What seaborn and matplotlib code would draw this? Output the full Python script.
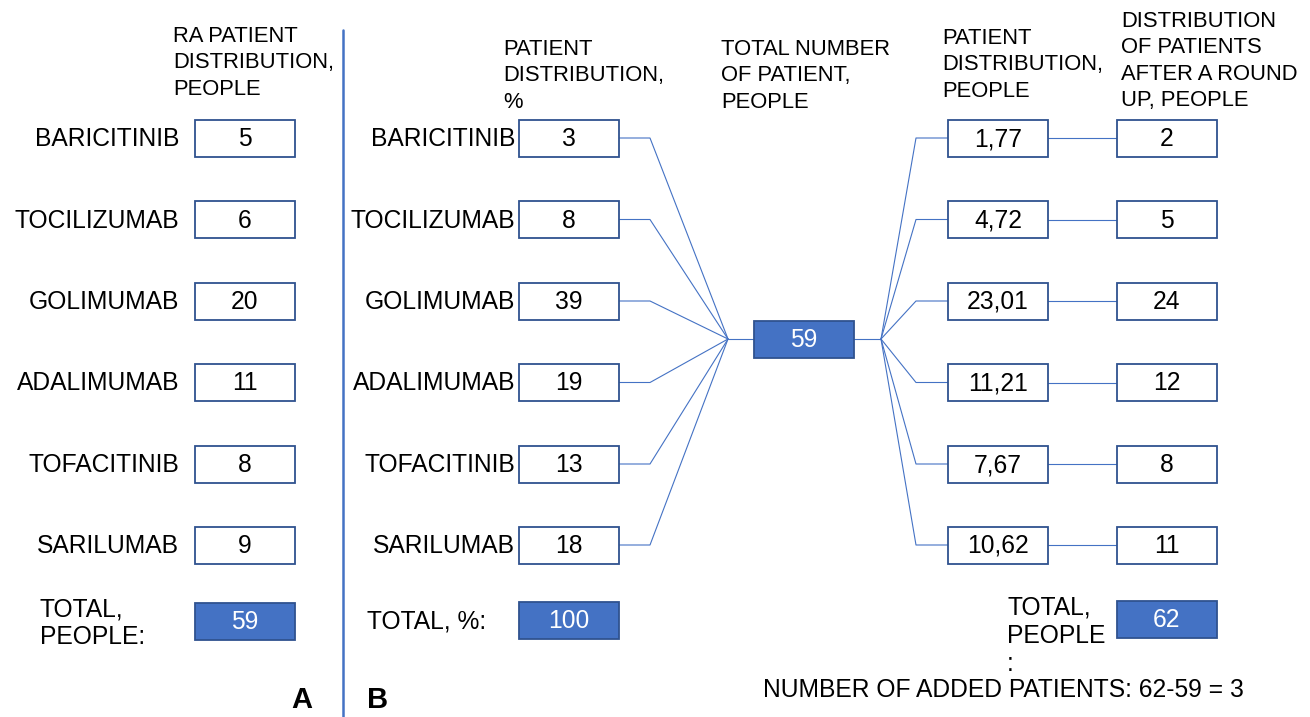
import matplotlib
matplotlib.use("Agg")
import matplotlib.pyplot as plt
from matplotlib.patches import Rectangle
import seaborn as sns

# data
drugs = ["BARICITINIB", "TOCILIZUMAB", "GOLIMUMAB", "ADALIMUMAB", "TOFACITINIB", "SARILUMAB"]
ra_people = ["5", "6", "20", "11", "8", "9"]
pct = ["3", "8", "39", "19", "13", "18"]
dist_people = ["1,77", "4,72", "23,01", "11,21", "7,67", "10,62"]
rounded_people = ["2", "5", "24", "12", "8", "11"]
total_a = "59"
total_pct = "100"
total_hub = "59"
total_rounded = "62"
added_text = "NUMBER OF ADDED PATIENTS: 62-59 = 3"

sns.set_theme(style="white")
plt.rcParams["font.family"] = ["Liberation Sans", "DejaVu Sans"]
plt.rcParams["text.color"] = "black"

FILL = "#4472C4"
EDGE = "#2F528F"
FS = 17.7
HFS = 15.8

fig = plt.figure(figsize=(13.1, 7.17), dpi=100)
ax = fig.add_axes([0, 0, 1, 1])
ax.set_xlim(0, 1310)
ax.set_ylim(717, 0)
ax.axis("off")


def box(x0, yc, txt, filled=False, w=100, h=37):
    ax.add_patch(Rectangle((x0, yc - h / 2), w, h, facecolor=FILL if filled else "white",
                           edgecolor=EDGE, lw=1.3, zorder=3))
    ax.text(x0 + w / 2, yc + 1, txt, ha="center", va="center", fontsize=FS,
            color="white" if filled else "black", zorder=4)


def header(x, y, txt):
    ax.text(x, y, txt, fontsize=HFS, va="top", ha="left", linespacing=1.34)


row_y = [138, 219.5, 301, 382.5, 464, 545]
hub_l = (728, 339)
hub_r = (881, 339)

# headers
header(173, 26, "RA PATIENT\nDISTRIBUTION,\nPEOPLE")
header(503, 39, "PATIENT\nDISTRIBUTION,\n%")
header(721, 39, "TOTAL NUMBER\nOF PATIENT,\nPEOPLE")
header(942, 28, "PATIENT\nDISTRIBUTION,\nPEOPLE")
header(1121, 11, "DISTRIBUTION\nOF PATIENTS\nAFTER A ROUND\nUP, PEOPLE")

# divider
ax.plot([343, 343], [30, 717], color=FILL, lw=1.8)

for i, y in enumerate(row_y):
    # panel A
    ax.text(179, y + 1, drugs[i], ha="right", va="center", fontsize=FS)
    box(195, y, ra_people[i])
    # panel B left
    ax.text(515, y + 1, drugs[i], ha="right", va="center", fontsize=FS)
    box(519, y, pct[i])
    ax.plot([619, 650, hub_l[0]], [y, y, hub_l[1]], color=FILL, lw=0.8, zorder=2)
    # right side
    ax.plot([hub_r[0], 916, 948], [hub_r[1], y, y], color=FILL, lw=0.8, zorder=2)
    box(948, y, dist_people[i])
    ax.plot([1048, 1117], [y, y], color=FILL, lw=0.8, zorder=2)
    box(1117, y, rounded_people[i])

# hub
ax.plot([hub_l[0], 754], [339, 339], color=FILL, lw=0.8)
ax.plot([853, hub_r[0]], [339, 339], color=FILL, lw=0.8)
box(754, 339, total_hub, filled=True)

# totals
ax.text(40, 623, "TOTAL,\nPEOPLE:", ha="left", va="center", fontsize=FS, linespacing=1.2)
box(195, 621, total_a, filled=True)
ax.text(367, 622, "TOTAL, %:", ha="left", va="center", fontsize=FS)
box(519, 620, total_pct, filled=True)
ax.text(1007, 596, "TOTAL,\nPEOPLE\n:", ha="left", va="top", fontsize=FS, linespacing=1.2)
box(1117, 619, total_rounded, filled=True)

ax.text(763, 690, added_text, ha="left", va="center", fontsize=FS)

ax.text(302, 700, "A", ha="center", va="center", fontsize=21, fontweight="bold")
ax.text(378, 700, "B", ha="center", va="center", fontsize=21, fontweight="bold")

fig.savefig("out.png", dpi=100)
